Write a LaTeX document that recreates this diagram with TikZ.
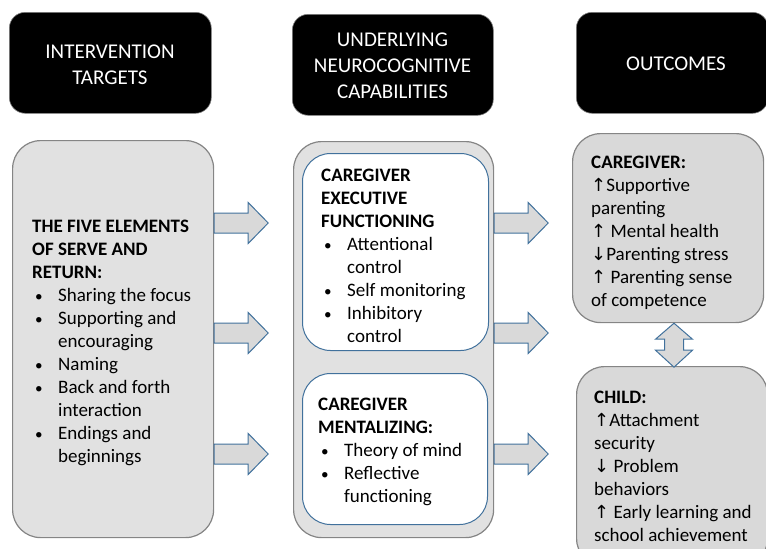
\documentclass[tikz,border=0pt]{standalone}
\usepackage{fontspec}
\setmainfont{Carlito}
\newfontfamily\arrowfont{DejaVu Sans}
\definecolor{panelgray}{HTML}{E1E1E1}
\definecolor{outgray}{HTML}{D9D9D9}
\definecolor{edgegray}{HTML}{858585}
\definecolor{edgeblue}{HTML}{41719C}
\newcommand{\bitem}[1]{\makebox[26pt][l]{\hspace{3pt}\raisebox{0.5pt}{\scalebox{0.8}{\textbullet}}}#1}
\newcommand{\cont}[1]{\makebox[26pt]{}#1}
\newcommand{\uarr}{{\arrowfont\fontsize{18}{23}\selectfont ↑}}
\newcommand{\darr}{{\arrowfont\fontsize{18}{23}\selectfont ↓}}
\begin{document}
\begin{tikzpicture}[x=1pt,y=-1pt,
  header/.style={fill=black, draw=gray, line width=0.6pt, rounded corners=16pt,
    inner sep=0pt, anchor=north west},
  headtext/.style={text=white, font=\fontsize{21}{26}\selectfont, align=center, inner sep=0pt},
  panel/.style={fill=panelgray, draw=edgegray, line width=1.2pt, rounded corners=28pt,
    inner sep=0pt, anchor=north west},
  outbox/.style={panel, fill=outgray},
  innerbox/.style={fill=white, draw=edgeblue, line width=1pt, rounded corners=28pt,
    inner sep=0pt, anchor=north west},
  body/.style={font=\fontsize{19}{23}\selectfont, align=left, inner sep=0pt, anchor=west},
  blockarrow/.style={fill=outgray, draw=edgeblue, line width=1pt, line join=miter},
  pics/rightblock/.style={code={
    \draw[blockarrow] (0,-10) -- (34,-10) -- (34,-20.5) -- (54,0) -- (34,20.5)
      -- (34,10) -- (0,10) -- cycle;}},
  pics/updownblock/.style={code={
    \draw[blockarrow] (0,0) -- (18.5,16) -- (9.5,16) -- (9.5,27) -- (18.5,27) -- (0,44)
      -- (-18.5,27) -- (-9.5,27) -- (-9.5,16) -- (-18.5,16) -- cycle;}}
]
\useasboundingbox (0,0) rectangle (766,549);

% column headings
\node[header, minimum width=202pt, minimum height=101pt] (hdA) at (9,12) {};
\node[headtext] (hdAtext) at (110,64.5) {INTERVENTION\\TARGETS};
\node[header, minimum width=201pt, minimum height=101pt] (hdB) at (292,14) {};
\node[headtext] (hdBtext) at (392.5,66) {UNDERLYING\\NEUROCOGNITIVE\\CAPABILITIES};
\node[header, minimum width=192pt, minimum height=101pt] (hdC) at (576,12) {};
\node[headtext] (hdCtext) at (676,64) {OUTCOMES};

% intervention targets
\node[panel, minimum width=201pt, minimum height=397pt] (tgt) at (12,140) {};
\node[body] (tgttext) at (32,343) {\textbf{THE FIVE ELEMENTS}\\\textbf{OF SERVE AND}\\\textbf{RETURN:}\\
  \bitem{Sharing the focus}\\\bitem{Supporting and}\\\cont{encouraging}\\\bitem{Naming}\\
  \bitem{Back and forth}\\\cont{interaction}\\\bitem{Endings and}\\\cont{beginnings}};

% neurocognitive capabilities
\node[panel, minimum width=200pt, minimum height=396pt] (ncb) at (293,141) {};
\node[innerbox, minimum width=186pt, minimum height=197pt] (ef) at (302,153) {};
\node[body] (eftext) at (321,256) {\textbf{CAREGIVER}\\\textbf{EXECUTIVE}\\\textbf{FUNCTIONING}\\
  \bitem{Attentional}\\\cont{control}\\\bitem{Self monitoring}\\\bitem{Inhibitory}\\\cont{control}};
\node[innerbox, minimum width=185pt, minimum height=151pt] (mz) at (302,373) {};
\node[body] (mztext) at (318,452) {\textbf{CAREGIVER}\\\textbf{MENTALIZING:}\\
  \bitem{Theory of mind}\\\bitem{Reflective}\\\cont{functioning}};

% outcomes
\node[outbox, minimum width=191pt, minimum height=189pt] (cg) at (572,133) {};
\node[body] (cgtext) at (591,233) {\textbf{CAREGIVER:}\\\uarr Supportive\\parenting\\
  \uarr\ Mental health\\\darr Parenting stress\\\uarr\ Parenting sense\\of competence};
\node[outbox, minimum width=191pt, minimum height=200pt] (ch) at (576,366) {};
\node[body] (chtext) at (594,466) {\textbf{CHILD:}\\\uarr Attachment\\security\\
  \darr\ Problem\\behaviors\\\uarr\ Early learning and\\school achievement};

% rows of the block arrows
\coordinate (rowA) at (0,223);
\coordinate (rowB) at (0,333);
\coordinate (rowC) at (0,454);
\coordinate (link) at (674,0);

\pic at (tgt.east |- rowA) {rightblock};
\pic at (tgt.east |- rowB) {rightblock};
\pic at (tgt.east |- rowC) {rightblock};
\pic at (ncb.east |- rowA) {rightblock};
\pic at (ncb.east |- rowB) {rightblock};
\pic at (ncb.east |- rowC) {rightblock};
\pic at (link |- cg.south) {updownblock};
\end{tikzpicture}
\end{document}
